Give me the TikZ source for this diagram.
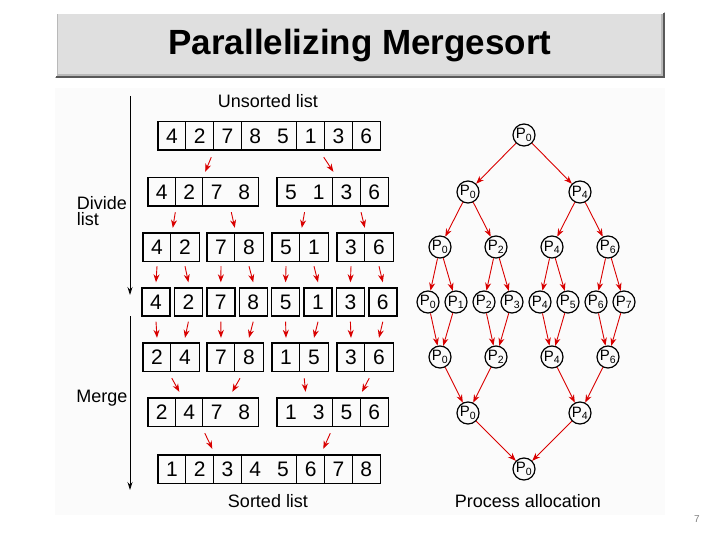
\documentclass[tikz,border=0pt]{standalone}
\usepackage{fontspec}
\setmainfont{Liberation Sans}
\usetikzlibrary{arrows.meta,calc,fit}
\newcommand\mklist[6]{% name, left x, center y, cell width, items, skip divider index
  \foreach \v [count=\i] in {#5} {
    \node[cell, minimum width=#4pt] (#1-\i) at ({#2+(\i-0.5)*#4}, #3) {\v};
    \ifnum\i>1 \ifnum\i=#6\relax\else
      \draw[divider] (#1-\i.north west) -- (#1-\i.south west);
    \fi\fi
    \xdef\lastidx{\i}
  }
  \node[boxframe, fit=(#1-1)(#1-\lastidx)] (#1) {};
}
\tikzset{
  cell/.style={minimum height=28pt, inner sep=0pt, font=\fontsize{21}{21}\selectfont},
  divider/.style={line width=0.8pt},
  boxframe/.style={draw, line width=1.4pt, inner sep=0pt},
  ra/.style={red!85!black, line width=0.9pt, -{Stealth[length=8pt,width=6pt]}},
  pr/.style={circle, draw, line width=1.2pt, minimum size=22pt, inner sep=0pt, font=\fontsize{15}{15}\selectfont},
  lbl/.style={font=\fontsize{18}{18}\selectfont},
  ax/.style={line width=0.8pt, -{Stealth[length=8pt,width=5pt]}},
}
\begin{document}
\begin{tikzpicture}[x=1pt,y=-1pt]
\useasboundingbox (0,0) rectangle (720,540);
% title bar
\fill[gray!55] (55,12) rectangle (665,78);
\fill[gray!25] (58,14) rectangle (661,74);
\draw[white, line width=2pt] (56,77) -- (56,13) -- (664,13);
\draw[gray!70!black, line width=2pt] (56,77) -- (664,77) -- (664,13);
\node[font=\bfseries\fontsize{35}{35}\selectfont] (title) at (360,46) {Parallelizing Mergesort};
\fill[gray!3] (55,88) rectangle (665,515);
\node[font=\fontsize{10}{10}\selectfont, text=gray] (pg) at (697,519) {7};

% lists
\mklist{ra}{158}{136}{27.75}{4,2,7,8,5,1,3,6}{5}
\mklist{rba}{148}{192}{27.5}{4,2,7,8}{4}
\mklist{rbb}{277}{192}{27.75}{5,1,3,6}{2}
\mklist{rca}{143}{247}{28}{4,2}{0}
\mklist{rcb}{207}{247}{28}{7,8}{0}
\mklist{rcc}{272}{247}{28}{5,1}{0}
\mklist{rcd}{337}{247}{28}{3,6}{0}
\foreach \v [count=\i] in {4,2,7,8,5,1,3,6} {
  \node[cell, minimum width=28pt, draw, line width=1.4pt] (rd\i) at ({156+(\i-1)*32.4}, 302) {\v};
}
\mklist{rea}{143}{357}{28}{2,4}{0}
\mklist{reb}{207}{357}{28}{7,8}{0}
\mklist{rec}{272}{357}{28}{1,5}{0}
\mklist{red}{337}{357}{28}{3,6}{0}
\mklist{rfa}{148}{412}{27.5}{2,4,7,8}{4}
\mklist{rfb}{277}{412}{27.75}{1,3,5,6}{2}
\mklist{rg}{158}{469}{27.75}{1,2,3,4,5,6,7,8}{5}

\node[lbl] (uns) at (268,101) {Unsorted list};
\node[lbl] (srt) at (268,501) {Sorted list};
\node[lbl, align=left, inner sep=0pt] (div) at (102,211) {Divide\\[-2pt]list};
\node[lbl] (mrg) at (102,398) {Merge};
\coordinate (a1) at (130,96); \coordinate (a2) at (130,295);
\coordinate (a3) at (130,316); \coordinate (a4) at (130,490);
\draw[ax] (a1) -- (a2);
\draw[ax] (a3) -- (a4);

% red arrows
\draw[ra] ([xshift=-2pt,yshift=-7pt]ra-3.south west) -- ([xshift=2pt,yshift=6pt]rba-2.north east);
\draw[ra] ([xshift=-1pt,yshift=-7pt]ra-6.south east) -- ([xshift=-13pt,yshift=6pt]rbb-3.north);
\draw[ra] ([xshift=0pt,yshift=-6pt]rba-2.south west) -- ([xshift=2pt,yshift=5pt]rca-2.north west);
\draw[ra] ([xshift=1pt,yshift=-6pt]rba-4.south west) -- ([xshift=0pt,yshift=5pt]rcb-2.north west);
\draw[ra] ([xshift=0pt,yshift=-6pt]rbb-2.south west) -- ([xshift=2pt,yshift=5pt]rcc-2.north west);
\draw[ra] ([xshift=1pt,yshift=-6pt]rbb-4.south west) -- ([xshift=0pt,yshift=5pt]rcd-2.north west);
\foreach \a/\b in {rca-1/rd1,rca-2/rd2,rcb-1/rd3,rcb-2/rd4,rcc-1/rd5,rcc-2/rd6,rcd-1/rd7,rcd-2/rd8} {
  \draw[ra] ([yshift=-5pt]\a.south) -- ([yshift=5pt]\b.north);
}
\foreach \a/\b in {rd1/rea-1,rd2/rea-2,rd3/reb-1,rd4/reb-2,rd5/rec-1,rd6/rec-2,rd7/red-1,rd8/red-2} {
  \draw[ra] ([yshift=-5pt]\a.south) -- ([yshift=5pt]\b.north);
}
\draw[ra] ([xshift=1pt,yshift=-7pt]rea-2.south west) -- ([xshift=4pt,yshift=6pt]rfa-2.north west);
\draw[ra] ([xshift=-9pt,yshift=-7pt]reb-2.south) -- ([xshift=2pt,yshift=6pt]rfa-4.north west);
\draw[ra] ([xshift=4pt,yshift=-7pt]rec-1.south east) -- ([xshift=1pt,yshift=6pt]rfb-2.north west);
\draw[ra] ([xshift=4pt,yshift=-7pt]red-1.south east) -- ([xshift=2pt,yshift=6pt]rfb-4.north west);
\draw[ra] ([xshift=2pt,yshift=-7pt]rfa-3.south west) -- ([xshift=-1pt,yshift=6pt]rg-3.north west);
\draw[ra] ([xshift=-2pt,yshift=-7pt]rfb-3.south west) -- ([xshift=-1pt,yshift=6pt]rg-7.north west);

% process tree
\node[pr] (t0) at (524,135) {P\textsubscript{0}};
\node[pr] (s0) at (468,192) {P\textsubscript{0}};
\node[pr] (s4) at (580,192) {P\textsubscript{4}};
\foreach \k/\x in {0/440,2/496,4/552,6/608} \node[pr] (u\k) at (\x,247) {P\textsubscript{\k}};
\foreach \k in {0,...,7} \node[pr] (v\k) at ({428+28*\k},302) {P\textsubscript{\k}};
\foreach \k/\x in {0/440,2/496,4/552,6/608} \node[pr] (w\k) at (\x,357) {P\textsubscript{\k}};
\node[pr] (x0) at (468,413) {P\textsubscript{0}};
\node[pr] (x4) at (580,413) {P\textsubscript{4}};
\node[pr] (y0) at (524,469) {P\textsubscript{0}};
\draw[ra] (t0) -- (s0); \draw[ra] (t0) -- (s4);
\draw[ra] (s0) -- (u0); \draw[ra] (s0) -- (u2);
\draw[ra] (s4) -- (u4); \draw[ra] (s4) -- (u6);
\foreach \p/\a/\b in {0/0/1,2/2/3,4/4/5,6/6/7} {
  \draw[ra] (u\p) -- (v\a); \draw[ra] (u\p) -- (v\b);
  \draw[ra] (v\a) -- (w\p); \draw[ra] (v\b) -- (w\p);
}
\draw[ra] (w0) -- (x0); \draw[ra] (w2) -- (x0);
\draw[ra] (w4) -- (x4); \draw[ra] (w6) -- (x4);
\draw[ra] (x0) -- (y0); \draw[ra] (x4) -- (y0);
\node[lbl] (pa) at (528,501) {Process allocation};
\end{tikzpicture}
\end{document}
